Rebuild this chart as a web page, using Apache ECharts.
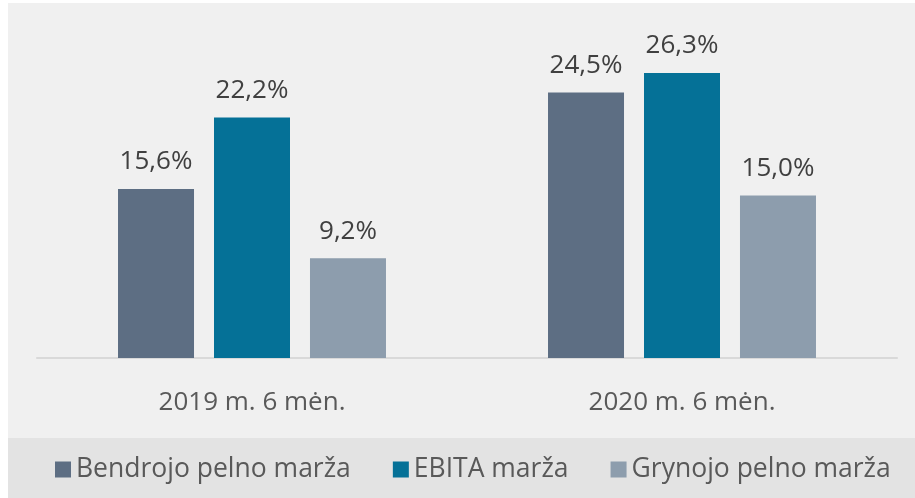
<!DOCTYPE html>
<html>
<head>
<meta charset="utf-8">
<script src="https://cdn.jsdelivr.net/npm/echarts@6/dist/echarts.min.js"></script>
<style>
  html, body { margin: 0; padding: 0; background: #fff; }
  #chart { width: 915px; height: 498px; }
</style>
</head>
<body>
<div id="chart"></div>
<script>
const categories = ['2019 m. 6 mėn.', '2020 m. 6 mėn.']
const seriesNames = ['Bendrojo pelno marža', 'EBITA marža', 'Grynojo pelno marža']
const bendrojo = [15.6, 24.5]
const ebita = [22.2, 26.3]
const grynojo = [9.2, 15.0]
const colors = ['#5d6e83', '#057197', '#8d9dad']

const font = '"Open Sans", "Noto Sans", sans-serif'

const makeSeries = (name, data, color) => ({
  name: name,
  type: 'bar',
  data: data,
  barWidth: 76,
  barGap: '26.3%',
  itemStyle: { color: color },
  label: {
    show: true,
    position: 'top',
    distance: 14,
    color: '#404040',
    fontFamily: font,
    fontSize: 26,
    formatter: (p) => p.value.toFixed(1).replace('.', ',') + '%'
  }
})

const myChart = echarts.init(document.getElementById('chart'))
myChart.setOption({
  backgroundColor: '#ffffff',
  animation: false,
  graphic: [
    { type: 'rect', z: -10, shape: { x: 8, y: 3, width: 907, height: 435 }, style: { fill: '#f0f0f0' } },
    { type: 'rect', z: -10, shape: { x: 8, y: 438, width: 907, height: 60 }, style: { fill: '#e3e3e3' } }
  ],
  legend: {
    left: 50,
    top: 451,
    itemWidth: 16,
    itemHeight: 16,
    itemGap: 42,
    icon: 'rect',
    textStyle: { color: '#595959', fontFamily: font, fontSize: 26.5 },
    data: seriesNames
  },
  grid: { left: 37, right: 18, top: 33, bottom: 140 },
  xAxis: {
    type: 'category',
    data: categories,
    axisLine: { show: true, lineStyle: { color: '#d9d9d9', width: 2 } },
    axisTick: { show: false },
    axisLabel: { color: '#595959', fontFamily: font, fontSize: 26, margin: 32 }
  },
  yAxis: {
    type: 'value',
    min: 0,
    max: 30,
    show: false,
    splitLine: { show: false }
  },
  series: [
    makeSeries(seriesNames[0], bendrojo, colors[0]),
    makeSeries(seriesNames[1], ebita, colors[1]),
    makeSeries(seriesNames[2], grynojo, colors[2])
  ]
})
</script>
</body>
</html>
